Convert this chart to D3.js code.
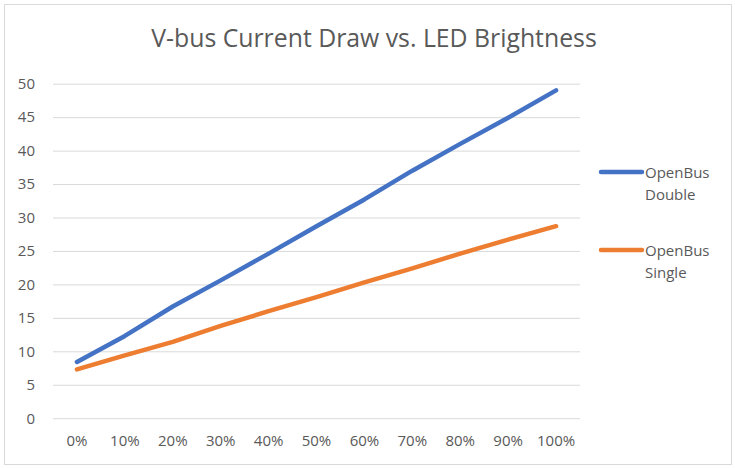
<!DOCTYPE html>
<html>
<head>
<meta charset="utf-8">
<script src="https://cdn.jsdelivr.net/npm/d3@7"></script>
<style>
  body { margin: 0; background: #fff; }
  svg text { font-family: "Open Sans", sans-serif; fill: #595959; }
</style>
</head>
<body>
<div id="container"></div>
<script>
var categories = ["0%", "10%", "20%", "30%", "40%", "50%", "60%", "70%", "80%", "90%", "100%"];
var doubleValues = [8.4, 12.3, 16.7, 20.6, 24.6, 28.7, 32.7, 37.0, 41.0, 44.9, 49.0];
var singleValues = [7.3, 9.4, 11.4, 13.8, 16.0, 18.1, 20.3, 22.4, 24.6, 26.7, 28.7];
var yTicks = [0, 5, 10, 15, 20, 25, 30, 35, 40, 45, 50];
var seriesNames = [["OpenBus", "Double"], ["OpenBus", "Single"]];
var colors = ["#4472C4", "#ED7D31"];

var width = 735, height = 468;
var plot = { left: 53, right: 580, top: 83.7, bottom: 418.2 };

var svg = d3.select("#container")
  .append("svg")
  .attr("width", width)
  .attr("height", height);

// chart frame
svg.append("rect")
  .attr("x", 4.5)
  .attr("y", 4.5)
  .attr("width", width - 8)
  .attr("height", height - 8)
  .attr("fill", "#fff")
  .attr("stroke", "#d9d9d9");

svg.append("text")
  .attr("x", 374)
  .attr("y", 47)
  .attr("text-anchor", "middle")
  .style("font-size", "24.8px")
  .text("V-bus Current Draw vs. LED Brightness");

var x = d3.scaleBand()
  .domain(categories)
  .range([plot.left, plot.right])
  .padding(0);

var y = d3.scaleLinear()
  .domain([0, 50])
  .range([plot.bottom, plot.top]);

// gridlines
var yAxis = d3.axisLeft(y)
  .tickValues(yTicks)
  .tickSize(-(plot.right - plot.left))
  .tickPadding(18);

var gy = svg.append("g")
  .attr("transform", "translate(" + plot.left + ",0)")
  .call(yAxis);
gy.select(".domain").remove();
gy.selectAll(".tick line").attr("stroke", "#d9d9d9").attr("stroke-width", 1);
gy.selectAll(".tick text").style("font-size", "15px").attr("fill", "#595959");

var xAxis = d3.axisBottom(x).tickSize(0).tickPadding(17);
var gx = svg.append("g")
  .attr("transform", "translate(0," + plot.bottom + ")")
  .call(xAxis);
gx.select(".domain").remove();
gx.selectAll(".tick text").style("font-size", "15px").attr("fill", "#595959");

var line = d3.line()
  .x(function (d, i) { return x(categories[i]) + x.bandwidth() / 2; })
  .y(function (d) { return y(d); });

[doubleValues, singleValues].forEach(function (vals, i) {
  svg.append("path")
    .datum(vals)
    .attr("fill", "none")
    .attr("stroke", colors[i])
    .attr("stroke-width", 4.5)
    .attr("stroke-linecap", "round")
    .attr("stroke-linejoin", "round")
    .attr("d", line);
});

// legend
var legendY = [172, 250];
seriesNames.forEach(function (name, i) {
  var g = svg.append("g").attr("transform", "translate(0," + legendY[i] + ")");
  g.append("line")
    .attr("x1", 601).attr("x2", 642)
    .attr("stroke", colors[i])
    .attr("stroke-width", 4.5)
    .attr("stroke-linecap", "round");
  var t = g.append("text")
    .attr("x", 645)
    .attr("y", 6)
    .style("font-size", "15px");
  t.append("tspan").attr("x", 645).text(name[0]);
  t.append("tspan").attr("x", 645).attr("dy", 22).text(name[1]);
});
</script>
</body>
</html>
